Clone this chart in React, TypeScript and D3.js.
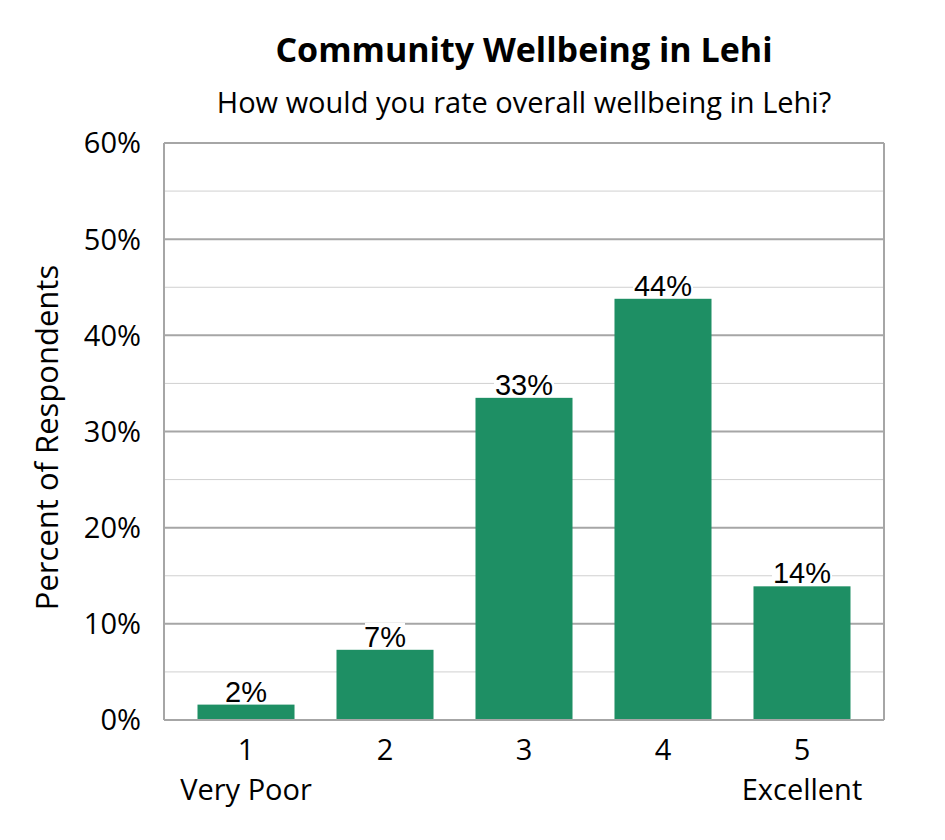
import * as React from 'react'
import * as d3 from 'd3'

const categories = ['1', '2', '3', '4', '5']
const subLabels = ['Very Poor', '', '', '', 'Excellent']
const values = [1.6, 7.3, 33.5, 43.8, 13.9]
const valueLabels = ['2%', '7%', '33%', '44%', '14%']
const yTicks = [0, 10, 20, 30, 40, 50, 60]
const yMinorTicks = [5, 15, 25, 35, 45, 55]

export default function App() {
    const WIDTH = 945
    const HEIGHT = 840
    const LEFT = 164
    const RIGHT = 884
    const TOP = 143
    const BOTTOM = 720
    const BAR_COLOR = '#1e8f64'
    const AXIS_FONT = '"Open Sans", Lato, sans-serif'
    const LABEL_FONT = '"Liberation Sans", Arial, sans-serif'
    const AXIS_SIZE = 29

    const x = d3.scaleBand().domain(categories).range([LEFT, RIGHT]).paddingInner(0.302).paddingOuter(0.241)
    const y = d3.scaleLinear().domain([0, 60]).range([BOTTOM, TOP])

    return <svg width={WIDTH} height={HEIGHT} style={{ position: 'absolute', left: 0, top: 0 }}>
        <rect width={WIDTH} height={HEIGHT} fill="#fff" />
        <text x={524} y={62} textAnchor="middle" fontFamily={AXIS_FONT} fontWeight="bold" fontSize={34}>Community Wellbeing in Lehi</text>
        <text x={524} y={113} textAnchor="middle" fontFamily={AXIS_FONT} fontSize={29}>How would you rate overall wellbeing in Lehi?</text>

        {yMinorTicks.map(t =>
            <line key={'m' + t} x1={LEFT} x2={RIGHT} y1={y(t)} y2={y(t)} stroke="#d0d0d0" strokeWidth={1} />
        )}
        {yTicks.map(t =>
            <line key={'g' + t} x1={LEFT} x2={RIGHT} y1={y(t)} y2={y(t)} stroke="#a6a6a6" strokeWidth={2} />
        )}
        <line x1={LEFT} x2={LEFT} y1={TOP} y2={BOTTOM} stroke="#a6a6a6" strokeWidth={2} />
        <line x1={RIGHT} x2={RIGHT} y1={TOP} y2={BOTTOM} stroke="#a6a6a6" strokeWidth={2} />

        {categories.map((c, i) =>
            <rect key={c} x={x(c)} width={x.bandwidth()} y={y(values[i])} height={BOTTOM - y(values[i])} fill={BAR_COLOR} />
        )}
        <line x1={LEFT} x2={RIGHT} y1={BOTTOM} y2={BOTTOM} stroke="#a6a6a6" strokeWidth={2} />

        {categories.map((c, i) => {
            const cx = (x(c) as number) + x.bandwidth() / 2
            const ty = y(values[i]) - 3
            return <g key={'l' + c}>
                <rect x={cx - valueLabels[i].length * 10} y={ty - 24} width={valueLabels[i].length * 20} height={24} fill="#fff" />
                <text x={cx} y={ty} textAnchor="middle" fontFamily={LABEL_FONT} fontSize={29}>{valueLabels[i]}</text>
            </g>
        })}

        {yTicks.map(t =>
            <text key={'t' + t} x={141} y={y(t)} dy="0.36em" textAnchor="end" fontFamily={AXIS_FONT} fontSize={AXIS_SIZE}>{t}%</text>
        )}
        <text transform={`translate(58 ${(TOP + BOTTOM) / 2 + 6}) rotate(-90)`} textAnchor="middle" fontFamily={AXIS_FONT} fontSize={31}>Percent of Respondents</text>

        {categories.map((c, i) => {
            const cx = (x(c) as number) + x.bandwidth() / 2
            return <g key={'x' + c}>
                <text x={cx} y={760} textAnchor="middle" fontFamily={AXIS_FONT} fontSize={AXIS_SIZE}>{c}</text>
                {subLabels[i] && <text x={cx} y={800} textAnchor="middle" fontFamily={AXIS_FONT} fontSize={AXIS_SIZE}>{subLabels[i]}</text>}
            </g>
        })}
    </svg>
}
